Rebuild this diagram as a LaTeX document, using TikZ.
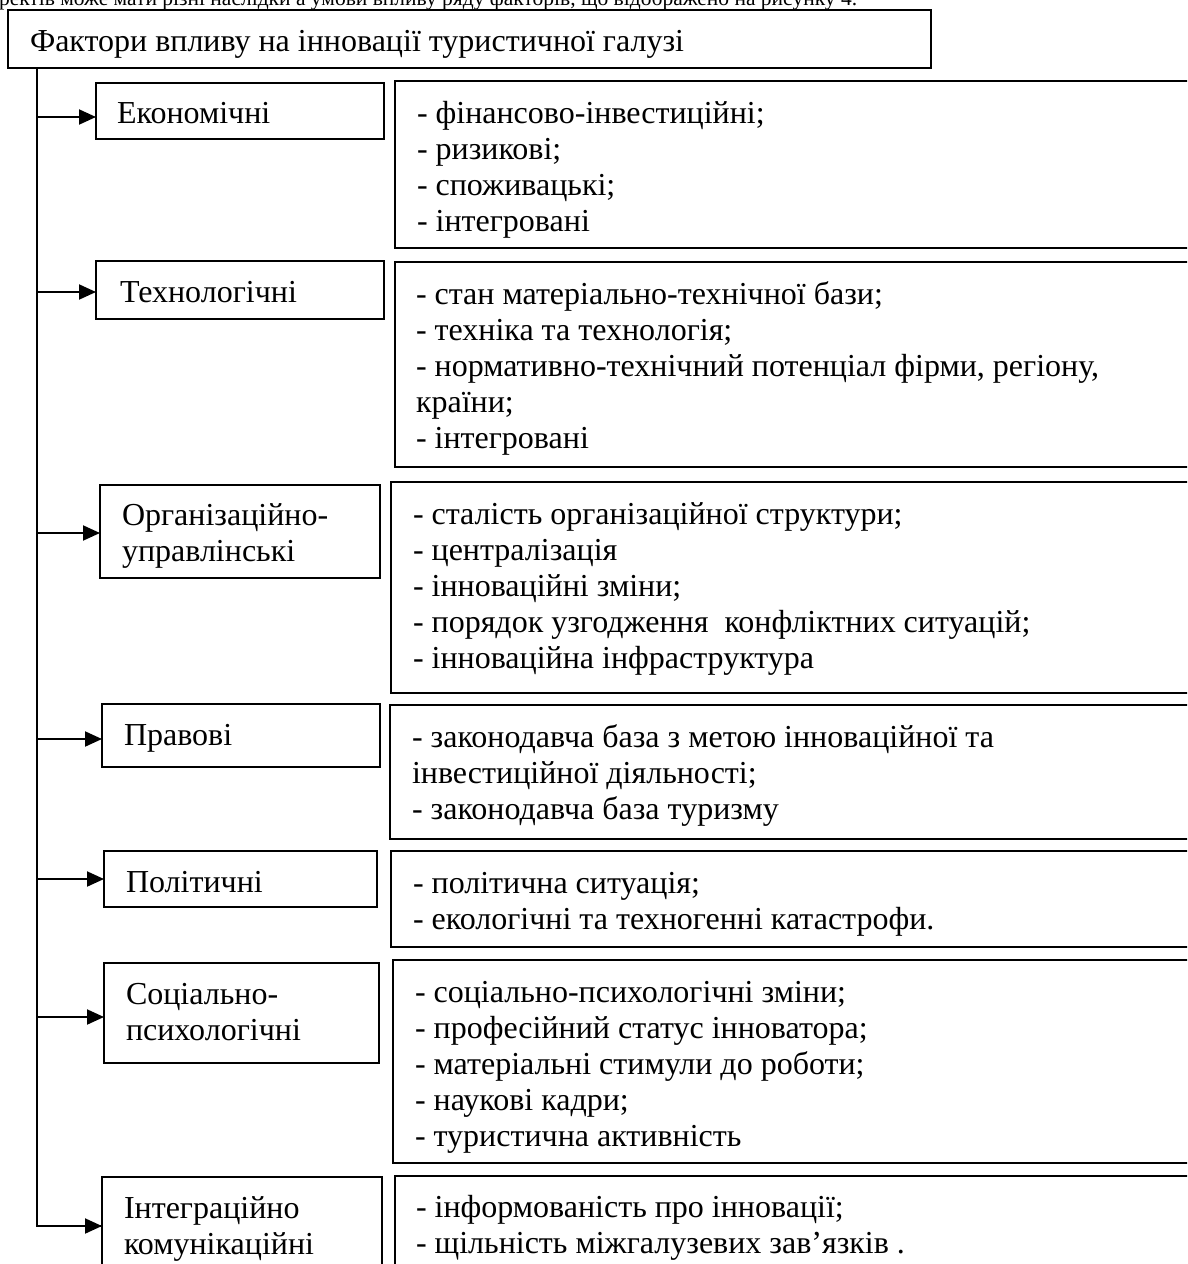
\documentclass[tikz,border=0pt]{standalone}
\usepackage{fontspec}
\setmainfont{Liberation Serif}
\newfontfamily\tnr{Liberation Serif}
\usetikzlibrary{arrows.meta}
\newcommand\fsz{\tnr\fontsize{32}{36}\selectfont}
\newcommand\lines[1]{\parbox[t]{780pt}{#1}}
\begin{document}
\begin{tikzpicture}[x=1pt,y=-1pt,
  box/.style={draw, line width=1.3pt, rectangle, anchor=north west, inner sep=0pt, outer sep=0pt},
  txt/.style={anchor=base west, inner sep=0pt, outer sep=0pt, font=\fsz},
  arr/.style={line width=2pt, -{Triangle[length=17pt,width=15pt]}},
  spn/.style={line width=1.3pt}]
\clip (0,0) rectangle (1187,1264);
\fill[white] (0,0) rectangle (1187,1264);
% partial line of the page text above
\node[txt, font=\tnr\fontsize{21.5}{25}\selectfont] (pagetext) at (-1,5) {ректів може мати різні наслідки а умови впливу ряду факторів, що відображено на рисунку 4.};
% title
\node[box, minimum width=923pt, minimum height=58pt] (title) at (8,10) {};
\node[txt] (titlet) at (30,51) {Фактори впливу на інновації туристичної галузі};
% left boxes
\node[box, minimum width=288pt, minimum height=56pt] (ecL) at (96,83) {};
\node[box, minimum width=288pt, minimum height=58pt] (teL) at (96,261) {};
\node[box, minimum width=280pt, minimum height=93pt] (orL) at (100,485) {};
\node[box, minimum width=278pt, minimum height=63pt] (prL) at (102,704) {};
\node[box, minimum width=273pt, minimum height=56pt] (poL) at (104,851) {};
\node[box, minimum width=275pt, minimum height=100pt] (soL) at (104,963) {};
\node[box, minimum width=280pt, minimum height=110pt] (inL) at (102,1177) {};
\node[txt] (ecLt) at (117,123) {Економічні};
\node[txt] (teLt) at (120,302) {Технологічні};
\node[txt] (orLt) at (122,525) {\lines{Організаційно-\\управлінські}};
\node[txt] (prLt) at (124,745) {Правові};
\node[txt] (poLt) at (126,892) {Політичні};
\node[txt] (soLt) at (126,1004) {\lines{Соціально-\\психологічні}};
\node[txt] (inLt) at (124,1218) {\lines{Інтеграційно\\комунікаційні}};
% right boxes
\node[box, minimum width=810pt, minimum height=167pt] (ecR) at (395,81) {};
\node[box, minimum width=810pt, minimum height=205pt] (teR) at (395,262) {};
\node[box, minimum width=810pt, minimum height=211pt] (orR) at (391,482) {};
\node[box, minimum width=810pt, minimum height=134pt] (prR) at (390,705) {};
\node[box, minimum width=810pt, minimum height=96pt] (poR) at (391,851) {};
\node[box, minimum width=810pt, minimum height=203pt] (soR) at (393,960) {};
\node[box, minimum width=810pt, minimum height=110pt] (inR) at (395,1176) {};
\node[txt] (ecRt) at (417,123) {\lines{- фінансово-інвестиційні;\\- ризикові;\\- споживацькі;\\- інтегровані}};
\node[txt] (teRt) at (416,304) {\lines{- стан матеріально-технічної бази;\\- техніка та технологія;\\- нормативно-технічний потенціал фірми, регіону,\\країни;\\- інтегровані}};
\node[txt] (orRt) at (413,524) {\lines{- сталість організаційної структури;\\- централізація\\- інноваційні зміни;\\- порядок узгодження\ \ конфліктних ситуацій;\\- інноваційна інфраструктура}};
\node[txt] (prRt) at (412,747) {\lines{- законодавча база з метою інноваційної та\\інвестиційної діяльності;\\- законодавча база туризму}};
\node[txt] (poRt) at (413,893) {\lines{- політична ситуація;\\- екологічні та техногенні катастрофи.}};
\node[txt] (soRt) at (415,1002) {\lines{- соціально-психологічні зміни;\\- професійний статус інноватора;\\- матеріальні стимули до роботи;\\- наукові кадри;\\- туристична активність}};
\node[txt] (inRt) at (416,1217) {\lines{- інформованість про інновації;\\- щільність міжгалузевих зав’язків .}};
% connectors
\coordinate (spine) at ([xshift=29pt]title.south west);
\draw[spn] (spine) |- ([yshift=6pt]inL.west);
\draw[arr] ([yshift=6pt]inL.west -| spine) -- ([yshift=6pt]inL.west);
\draw[arr] ([yshift=-6pt]ecL.west -| spine) -- ([yshift=-6pt]ecL.west);
\draw[arr] ([yshift=-2pt]teL.west -| spine) -- ([yshift=-2pt]teL.west);
\draw[arr] ([yshift=-1.5pt]orL.west -| spine) -- ([yshift=-1.5pt]orL.west);
\draw[arr] ([yshift=-3.5pt]prL.west -| spine) -- ([yshift=-3.5pt]prL.west);
\draw[arr] (poL.west -| spine) -- (poL.west);
\draw[arr] ([yshift=-4pt]soL.west -| spine) -- ([yshift=-4pt]soL.west);
\end{tikzpicture}
\end{document}
